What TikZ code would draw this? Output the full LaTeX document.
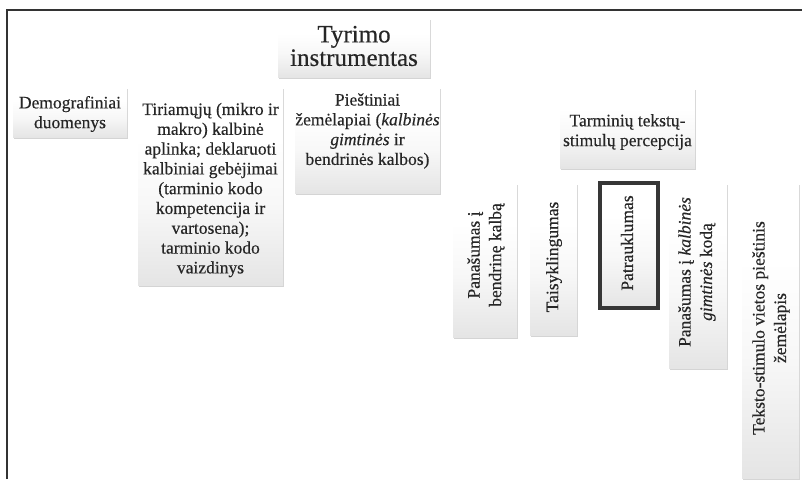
\documentclass[tikz,border=0pt]{standalone}
\usepackage{fontspec}
\setmainfont[FakeBold=0.35]{Liberation Serif}
\usetikzlibrary{shadows}
\pgfdeclareverticalshading{panelshade}{100bp}{color(0bp)=(black!26); color(15bp)=(black!14); color(45bp)=(black!3); color(62bp)=(white); color(100bp)=(white)}
\definecolor{framec}{HTML}{333333}
\definecolor{boldc}{HTML}{363636}
\definecolor{textc}{HTML}{262626}
\tikzset{
  panel/.style={anchor=north west, shading=panelshade, draw=none, inner sep=0pt,
    drop shadow={shadow xshift=0.8pt, shadow yshift=-1.6pt, opacity=0.3, fill=black!55}},
  boldpanel/.style={panel, draw=boldc, line width=4pt},
  txt/.style={align=center, inner sep=0pt, text=textc, font=\fontsize{17.5}{19.8}\selectfont},
  titletxt/.style={txt, font=\fontsize{25}{23.5}\selectfont},
  vtxt/.style={txt, rotate=90, font=\fontsize{17.5}{21.5}\selectfont},
  framel/.style={draw=framec, line width=1.6pt}
}
\begin{document}
\begin{tikzpicture}[x=1pt,y=-1pt]
\useasboundingbox (0,0) rectangle (802,479);
\fill[white] (0,0) rectangle (802,479);
\draw[framel] (7,479) -- (7,10) -- (802,10);

% boxes
\node[panel, minimum width=152pt, minimum height=59pt] (tyrBox) at (278,18) {};
\node[panel, minimum width=114pt, minimum height=50pt] (demoBox) at (13,87) {};
\node[panel, minimum width=145pt, minimum height=198pt] (tirBox) at (138,87) {};
\node[panel, minimum width=145pt, minimum height=106pt] (pieBox) at (295,87) {};
\node[panel, minimum width=135pt, minimum height=80pt] (tarBox) at (560,88) {};
\node[panel, minimum width=64pt, minimum height=154pt] (panBox) at (453,183) {};
\node[panel, minimum width=47pt, minimum height=152pt] (taisBox) at (530,183) {};
\node[boldpanel, minimum width=58pt, minimum height=125pt] (patrBox) at (598,181) {};
\node[panel, minimum width=58pt, minimum height=185pt] (pankBox) at (669,183) {};
\node[panel, minimum width=57pt, minimum height=295pt] (tekBox) at (742,183) {};

% texts
\node[titletxt] (tyr) at (354,46) {Tyrimo\\instrumentas};
\node[txt] (demo) at (70,114) {Demografiniai\\duomenys};
\node[txt] (tir) at (210.5,190) {Tiriamųjų (mikro ir\\makro) kalbinė\\aplinka; deklaruoti\\kalbiniai gebėjimai\\(tarminio kodo\\kompetencija ir\\vartosena);\\tarminio kodo\\vaizdinys};
\node[txt] (pie) at (367.5,131) {Pieštiniai\\žemėlapiai (\textit{kalbinės}\\\textit{gimtinės} ir\\bendrinės kalbos)};
\node[txt] (tar) at (627.5,132) {Tarminių tekstų-\\stimulų percepcija};
\node[vtxt] (pan) at (486,255) {Panašumas į\\bendrinę kalbą};
\node[vtxt] (tais) at (554,257) {Taisyklingumas};
\node[vtxt] (patr) at (627,243) {Patrauklumas};
\node[vtxt] (pank) at (697,272) {Panašumas į \textit{kalbinės}\\\textit{gimtinės} kodą};
\node[vtxt] (tek) at (771,328) {Teksto-stimulo vietos pieštinis\\žemėlapis};
\end{tikzpicture}
\end{document}
